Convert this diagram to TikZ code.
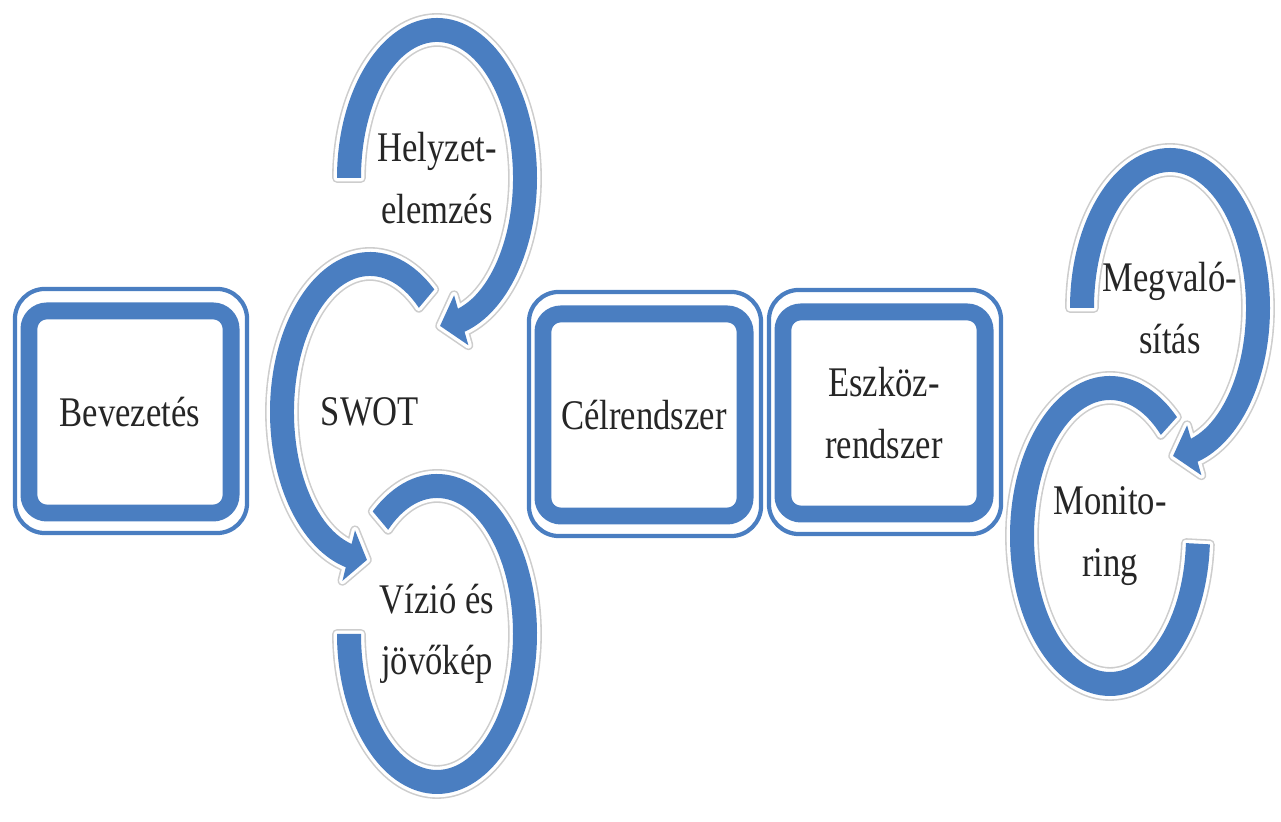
\documentclass[tikz,border=0pt]{standalone}
\usepackage{fontspec}
\setmainfont{Liberation Serif}[FakeStretch=0.82]
\usetikzlibrary{calc}

\definecolor{ringblue}{RGB}{74,126,193}
\definecolor{halogray}{RGB}{205,205,205}

% ring pieces round a named node: outer radii 100/160, inner 76/136
\newcommand\ringarc[3]{%
  ($(#1)+(#2:100 and 160)$) arc[start angle=#2, end angle=#3, x radius=100, y radius=160]
  -- ($(#1)+(#3:76 and 136)$) arc[start angle=#3, end angle=#2, x radius=76, y radius=136] -- cycle}
\newcommand\ringarrow[4]{%
  ($(#1)+(#2:100 and 160)$) arc[start angle=#2, end angle=#3, x radius=100, y radius=160]
  -- ($(#1)+(#3:114 and 174)$) -- ($(#1)+(#4:88 and 148)$) -- ($(#1)+(#3:62 and 122)$)
  -- ($(#1)+(#3:76 and 136)$) arc[start angle=#3, end angle=#2, x radius=76, y radius=136] -- cycle}

\tikzset{
  ring/.style={fill=ringblue,
    preaction={draw=halogray, line width=2.8pt, line join=round},
    preaction={draw=white, line width=1.9pt, line join=round}},
  box/.style={draw=ringblue, fill=white, line width=4.8pt, rounded corners=0.18cm,
    minimum width=2.02cm, minimum height=2.02cm, outer sep=0pt},
  rim/.style={draw=ringblue, line width=1.2pt, rounded corners=0.3cm},
  txt/.style={align=center, text=black!85, font=\fontsize{12}{17.5}\selectfont}
}

\begin{document}
\begin{tikzpicture}[x=0.01cm, y=0.01cm]
  \useasboundingbox (0,0) rectangle (1281,822);

  \begin{scope}[every node/.style={box,txt}]
    \node (bev)    at (130,410) {Bevezetés};
    \node (cel)    at (644,407) {Célrendszer};
    \node (eszkoz) at (884,409) {Eszköz-\\rendszer};
  \end{scope}

  \draw[rim] ([shift={(-14,-20)}]bev.south west)    rectangle ([shift={(16,22)}]bev.north east);
  \draw[rim] ([shift={(-14,-20)}]cel.south west)    rectangle ([shift={(16,22)}]cel.north east);
  \draw[rim] ([shift={(-14,-20)}]eszkoz.south west) rectangle ([shift={(16,22)}]eszkoz.north east);

  \begin{scope}[every node/.style={txt}]
    \node (helyzet) at (437,644) {Helyzet-\\elemzés};
    \node (swot)    at (370,410) {SWOT};
    \node (vizio)   at (437,188) {Vízió és\\jövőkép};
    \node (megval)  at (1170,514) {Megvaló-\\sítás};
    \node (monitor) at (1110,286) {Monito-\\ring};
  \end{scope}

  \path[ring] \ringarc{vizio}{130}{-180};
  \path[ring] \ringarrow{swot}{50}{256}{268};
  \path[ring] \ringarrow{helyzet}{180}{-74}{-88};

  \path[ring] \ringarc{monitor}{48}{357};
  \path[ring] \ringarrow{megval}{180}{-74}{-88};

\end{tikzpicture}
\end{document}
